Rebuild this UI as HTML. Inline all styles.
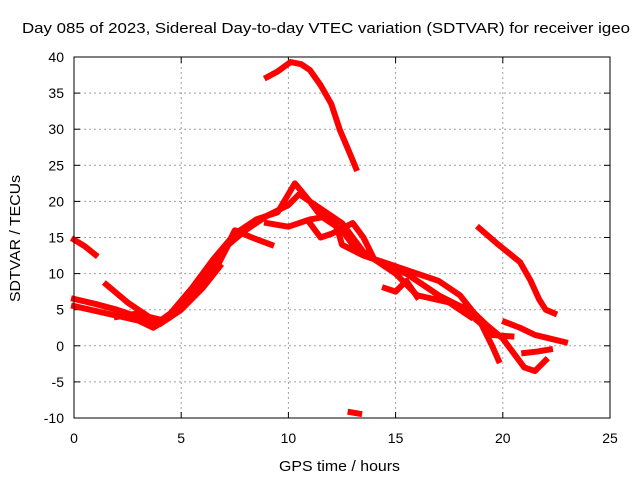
<!DOCTYPE html>
<html><head><meta charset="utf-8"><style>
body{margin:0;background:#fff}
svg{display:block}
text{font-family:"Liberation Sans",sans-serif;font-size:14px;fill:#000}
</style></head><body>
<svg id="chart" width="640" height="480">
<rect x="0" y="0" width="640" height="480" fill="#fff"/>
<text x="22" y="33" textLength="608" lengthAdjust="spacingAndGlyphs" style="font-size:15px">Day 085 of 2023, Sidereal Day-to-day VTEC variation (SDTVAR) for receiver igeo</text>
<text x="279" y="471" textLength="121" lengthAdjust="spacingAndGlyphs" style="font-size:15px">GPS time / hours</text>
<text transform="translate(20,302) rotate(-90)" textLength="127" lengthAdjust="spacingAndGlyphs" style="font-size:15px">SDTVAR / TECUs</text>
<g id="grid"></g>
<g id="ticks"></g>
<g id="series"></g>
<rect x="74" y="57" width="536" height="361" fill="none" stroke="#000" stroke-width="1"/>
</svg>
<script>
const xTicks=[0,5,10,15,20,25];
const yTicks=[-10,-5,0,5,10,15,20,25,30,35,40];
const traceTop=[[9,37.2],[9.5,38],[10.1,39.3],[10.6,39],[11,38.2],[11.5,36.1],[12,33.5],[12.4,29.9],[12.9,26.4],[13.15,24.6]];
const traceEarly=[[0,14.7],[0.5,13.8],[1,12.6]];
const traceLow=[[12.9,-9.2],[13.3,-9.4]];
const traceRight=[[18.9,16.3],[19.8,14],[20.8,11.6],[21.3,9],[21.7,6.4],[22,5],[22.4,4.5]];
const traceRight2=[[20.1,3.3],[20.8,2.5],[21.5,1.5],[22.2,1],[22.9,0.5]];
const traceRight3=[[21,-1],[21.6,-0.8],[22.2,-0.5]];
const traceM1=[[0,6.5],[1,5.8],[2,5],[3,4],[3.8,3],[4.5,4.5],[5.5,8],[6.5,12],[7.5,15.5],[8.5,17.5],[9.5,18.5],[10.3,22.5],[11,20],[11.5,18],[12.5,16],[13,14],[14,12],[15,11],[16,9],[17,7],[18,5.5],[19,3],[19.5,0],[19.8,-2]];
const traceM2=[[0,5.5],[1.5,4.5],[3,3.5],[3.7,2.5],[4.5,4],[5.5,7],[6.5,10],[7.2,14],[8,16],[9,18],[10,19.5],[10.5,21],[11.5,19],[12.5,17],[13.5,13],[14.5,11],[15.5,10],[16.5,8],[17.5,6],[18.5,5],[19.2,3],[20,1],[21,-3],[21.5,-3.5],[22,-2]];
const traceM3=[[1.5,8.5],[2.5,6],[3.5,4],[4.2,3.5],[5,6],[6,9.5],[7,13],[7.5,16],[8.3,15],[9.2,14]];
const traceM4=[[9,17],[10,16.5],[11,17.5],[12,18],[12.3,16],[12.5,14],[13.5,12.5],[14.5,11.5],[15.5,10.5],[17,9],[18,7],[18.8,4],[19.5,1.5],[20.4,1.3]];
const traceM5=[[11,17],[11.5,15],[12,15.5],[13,17],[13.5,15],[14,12],[15,10],[16,7],[17.5,6],[18.5,4]];
const traceM6=[[14.5,8],[15,7.5],[15.5,9],[16,6.8]];
const traceM7=[[2,4],[3,4.5],[4,3],[5,5],[6,8],[6.8,11]];
const traces=[traceTop,traceEarly,traceLow,traceRight,traceRight2,traceRight3,traceM1,traceM2,traceM3,traceM4,traceM5,traceM6,traceM7];
const X=v=>74+v*536/25;
const Y=v=>418-(v+10)*361/50;
const NS="http://www.w3.org/2000/svg";
const grid=document.getElementById('grid'),ticks=document.getElementById('ticks'),series=document.getElementById('series');
function mk(tag,attrs,parent){const e=document.createElementNS(NS,tag);for(const k in attrs)e.setAttribute(k,attrs[k]);parent.appendChild(e);return e;}
xTicks.forEach(t=>{
 const x=X(t);
 if(t>0&&t<25){const g=mk('line',{x1:x,x2:x,y1:57,y2:418,stroke:'#a0a0a0','stroke-dasharray':'2,3'},grid);
 
 }
 mk('line',{x1:x,x2:x,y1:418,y2:412,stroke:'#000'},ticks);mk('line',{x1:x,x2:x,y1:57,y2:63,stroke:'#000'},ticks);
 const l=mk('text',{x:x,y:443,'text-anchor':'middle'},ticks);l.textContent=t;
 
 
});
yTicks.forEach(t=>{
 const y=Y(t);
 if(t>-10&&t<40){const g=mk('line',{x1:74,x2:610,y1:y,y2:y,stroke:'#a0a0a0','stroke-dasharray':'2,3'},grid);
 
 }
 mk('line',{x1:74,x2:80,y1:y,y2:y,stroke:'#000'},ticks);mk('line',{x1:604,x2:610,y1:y,y2:y,stroke:'#000'},ticks);
 const l=mk('text',{x:64,y:y+5,'text-anchor':'end'},ticks);l.textContent=t;
 
 
});
traces.forEach(tr=>{
 const p=mk('polyline',{points:tr.map(d=>X(d[0])+','+Y(d[1])).join(' '),fill:'none',stroke:'#ff0000','stroke-width':6,'stroke-linejoin':'round','stroke-linecap':'square'},series);
 
 
});
</script>
</body></html>
